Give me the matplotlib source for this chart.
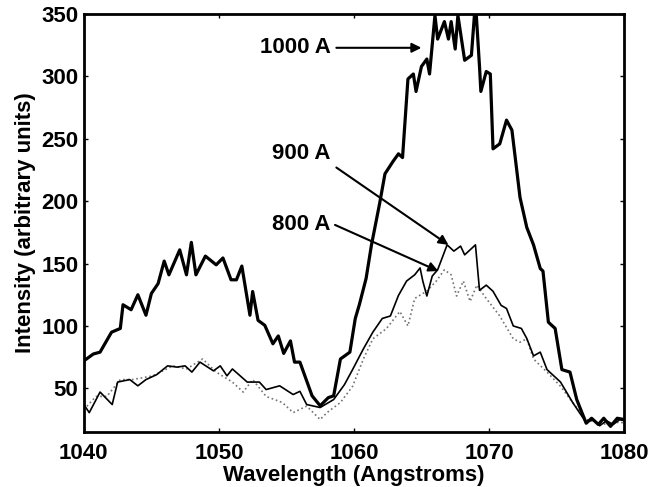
import matplotlib
matplotlib.use("Agg")
import matplotlib.pyplot as plt

plt.rcParams['font.family'] = ['Liberation Sans', 'DejaVu Sans']
plt.rcParams['font.weight'] = 'bold'

# 1000 A curve (thick)
wl_1000 = [1040.0, 1040.7, 1041.2, 1042.05, 1042.7, 1042.9, 1043.5, 1044.0, 1044.6, 1045.0,
           1045.5, 1045.95, 1046.3, 1047.1, 1047.6, 1047.96, 1048.3, 1049.0, 1049.8, 1050.3,
           1050.9, 1051.3, 1051.7, 1052.3, 1052.5, 1052.9, 1053.4, 1054.0, 1054.4, 1054.8,
           1055.3, 1055.6, 1056.0, 1056.9, 1057.5, 1058.1, 1058.5, 1059.0, 1059.7, 1060.1,
           1060.4, 1060.9, 1061.3, 1061.9, 1062.3, 1062.9, 1063.3, 1063.6, 1064.0, 1064.4,
           1064.6, 1065.0, 1065.4, 1065.6, 1066.0, 1066.2, 1066.7, 1067.0, 1067.2, 1067.5,
           1067.7, 1068.2, 1068.7, 1069.0, 1069.3, 1069.4, 1069.8, 1070.1, 1070.3, 1070.8,
           1071.3, 1071.7, 1072.3, 1072.8, 1073.3, 1073.8, 1074.0, 1074.4, 1074.9, 1075.4,
           1076.0, 1076.5, 1077.2, 1077.6, 1078.1, 1078.5, 1079.0, 1079.5, 1080.0]
int_1000 = [72, 77.5, 79, 95, 98, 117, 113, 125, 108.6, 126,
            134, 152, 141, 161, 141, 167, 141, 156, 149, 154.5,
            137, 137, 148, 108.6, 127.6, 104.5, 100.5, 85.7, 92, 78,
            88, 71, 71, 44, 36, 42.5, 44, 73.5, 79, 106,
            117, 138, 165, 198, 222, 232, 238, 235, 298, 302,
            288, 308, 314, 302, 349, 330, 344, 330, 344, 322,
            349, 313, 317, 360, 308, 288, 304, 302, 242, 246,
            265, 257, 203, 179, 165, 146, 144, 103, 98, 65,
            63, 41, 22, 26, 21, 26, 19.5, 26, 25]

# 900 A curve (thin solid)
wl_900 = [1040.0, 1040.4, 1041.2, 1042.1, 1042.5, 1043.4, 1044.0, 1044.6, 1045.4, 1046.2,
          1046.9, 1047.5, 1048.0, 1048.6, 1049.6, 1050.1, 1050.6, 1051.0, 1052.1, 1053.0,
          1053.5, 1054.5, 1055.5, 1056.0, 1056.5, 1057.5, 1058.5, 1059.3, 1059.9, 1060.7,
          1061.4, 1062.1, 1062.7, 1063.3, 1063.9, 1064.5, 1064.9, 1065.1, 1065.4, 1065.8,
          1066.2, 1066.9, 1067.4, 1067.9, 1068.2, 1069.0, 1069.3, 1069.8, 1070.3, 1070.9,
          1071.3, 1071.8, 1072.4, 1072.8, 1073.3, 1073.8, 1074.3, 1075.3, 1076.2, 1077.2,
          1077.7, 1078.2, 1078.7, 1079.2, 1079.7, 1080.0]
int_900 = [37, 30.5, 47, 37, 55, 57, 52, 57, 61, 68,
           67, 68, 63, 71, 64, 68, 60, 65.5, 55, 55,
           49, 52, 45, 47.6, 37, 34.6, 41, 53, 65, 81.6,
           95, 106, 108, 124.5, 136, 141, 146.5, 136, 124, 140,
           145, 165, 160, 164, 157, 165, 128.6, 132.7, 127.8, 116.5,
           114, 100, 98, 90, 76, 79, 65, 55, 38.6, 22.5,
           25, 20, 24, 21, 25, 24]

# 800 A curve (dotted, grey)
wl_800 = [1040.0, 1040.9, 1041.7, 1042.7, 1043.6, 1045.1, 1046.6, 1047.6, 1048.8, 1049.8,
          1051.0, 1051.8, 1052.5, 1053.5, 1054.7, 1055.5, 1056.5, 1057.5, 1058.0, 1059.0,
          1059.9, 1060.7, 1061.4, 1062.4, 1063.4, 1064.0, 1064.5, 1065.4, 1066.1, 1066.7,
          1067.2, 1067.6, 1068.1, 1068.6, 1069.1, 1069.8, 1070.8, 1071.8, 1072.3, 1072.8,
          1073.3, 1074.3, 1075.3, 1076.2, 1077.2, 1078.7, 1079.7, 1080.0]
int_800 = [33, 43.5, 43.5, 57, 57, 60, 68, 65.5, 73.5, 63,
           55, 47, 57, 43.5, 38.6, 30.5, 35.7, 25, 30.5, 38.6,
           51.6, 73.5, 89.7, 97.8, 111.6, 100, 122, 128, 136, 145,
           141, 124, 136, 119.7, 132.7, 122, 108, 89.7, 87, 89.7,
           73.5, 63, 51.6, 38.6, 25, 21, 23, 22]

# annotations: label, text anchor (right edge), arrow start, arrow tip
labels = ['1000 A', '900 A', '800 A']
text_pos = [(1058.3, 323), (1058.3, 238), (1058.3, 181)]
arrow_start = [(1058.7, 323), (1058.7, 227), (1058.6, 181)]
tips = [(1065.0, 323), (1067.0, 165), (1066.25, 144)]

fig = plt.figure(figsize=(6.5, 4.87), dpi=100)
ax = fig.add_axes([0.129, 0.113, 0.831, 0.858])

ax.plot(wl_800, int_800, color='0.45', lw=1.2, ls=':')
ax.plot(wl_900, int_900, color='k', lw=1.2)
ax.plot(wl_1000, int_1000, color='k', lw=2.3)

for lab, tp, st, tip in zip(labels, text_pos, arrow_start, tips):
    ax.text(tp[0], tp[1], lab, fontsize=16, fontweight='bold', ha='right', va='center')
    ax.annotate('', xy=tip, xytext=st,
                arrowprops=dict(arrowstyle='-|>', color='k', lw=1.5,
                                mutation_scale=14, shrinkA=0, shrinkB=0))

ax.set_xlim(1040, 1080)
ax.set_ylim(15, 350)
ax.set_xticks([1040, 1050, 1060, 1070, 1080])
ax.set_yticks([50, 100, 150, 200, 250, 300, 350])
ax.tick_params(direction='in', length=3, width=1, labelsize=16, top=True, right=True, pad=4)
ax.tick_params(axis='x', pad=8)
for lbl in ax.get_xticklabels() + ax.get_yticklabels():
    lbl.set_fontweight('bold')
for sp in ax.spines.values():
    sp.set_linewidth(2)

ax.set_xlabel('Wavelength (Angstroms)', fontsize=16, fontweight='bold', labelpad=1)
ax.set_ylabel('Intensity (arbitrary units)', fontsize=16, fontweight='bold', labelpad=4)

fig.savefig('out.png', dpi=100)
